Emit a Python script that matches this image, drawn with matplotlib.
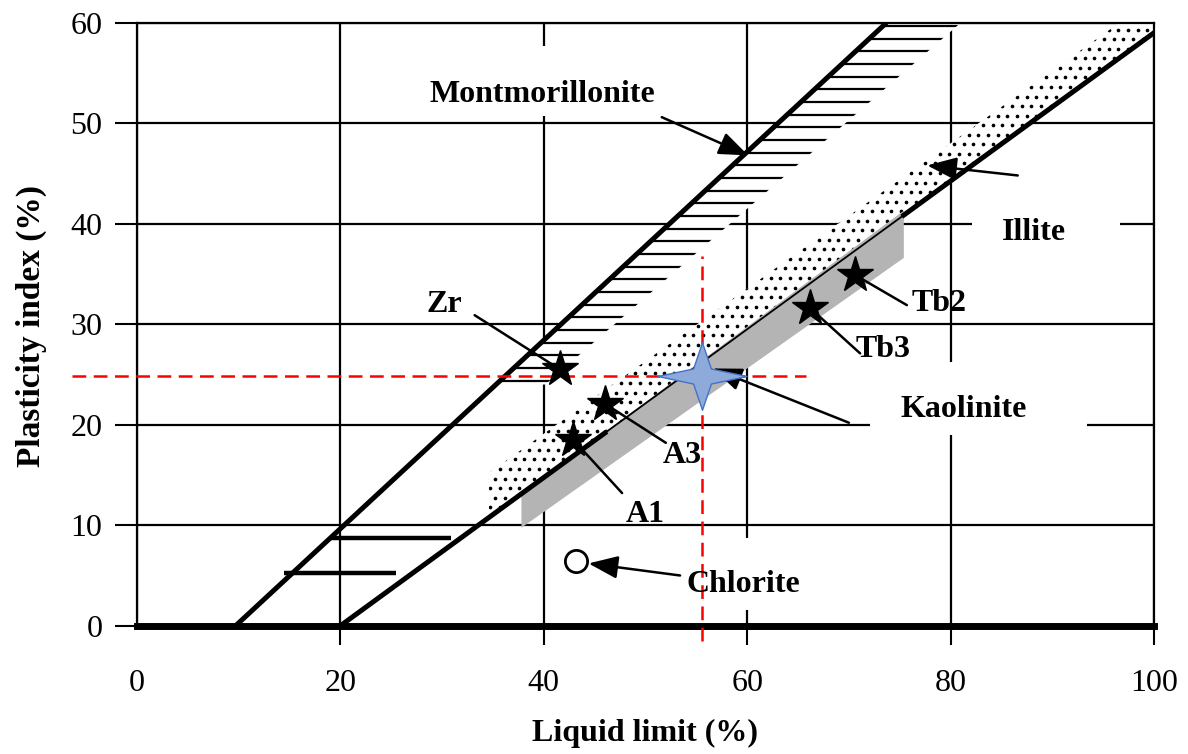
import numpy as np
import matplotlib
matplotlib.use("Agg")
import matplotlib.pyplot as plt
from matplotlib.patches import Polygon, Rectangle
from matplotlib.path import Path
from matplotlib.markers import MarkerStyle

plt.rcParams['font.family'] = ['Liberation Serif', 'DejaVu Serif']

# boundary lines of the chart (liquid limit, plasticity index)
upper_ll = [9.7, 73.7]
upper_pi = [0, 60]
aline_ll = [20, 100]
aline_pi = [0, 59]

# mineral zones
mont_right_ll = [40.15, 81.0]
mont_pi = [24, 60]
illite_top_ll = [34.6, 96.6]
illite_top_pi = [15.2, 60]
kao_ll = [37.8, 37.8, 75.4, 75.4]
kao_pi = [9.75, 13.1, 41.3, 36.6]
clml_pi = [5.2, 8.7]
clml_left = [14.5, 19.1]
clml_right = [25.5, 30.9]

# samples
sample_names = ['Zr', 'A3', 'A1', 'Tb2', 'Tb3']
sample_ll = [41.6, 46.0, 42.9, 70.6, 66.2]
sample_pi = [25.5, 22.1, 18.5, 34.9, 31.6]
chlorite_ll, chlorite_pi = 43.2, 6.4
soil_ll, soil_pi = 55.6, 24.8

xticks = [0, 20, 40, 60, 80, 100]
yticks = [0, 10, 20, 30, 40, 50, 60]

fig = plt.figure(figsize=(11.88, 7.54), dpi=100)
ax = fig.add_axes([0.1153, 0.1701, 0.8561, 0.7998])
ax.set_xlim(0, 100)
ax.set_ylim(0, 60)

ax.set_axisbelow(True)
ax.grid(True, color='black', lw=1.6)
ax.set_xticks(xticks)
ax.set_yticks(yticks)
ax.tick_params(axis='x', direction='out', length=14, width=1.5, pad=17, labelsize=23)
ax.tick_params(axis='y', direction='out', length=16, width=1.5, pad=9, labelsize=23)
ax.xaxis.get_major_ticks()[0].tick1line.set_visible(False)
for side in ['top', 'right', 'left']:
    ax.spines[side].set_linewidth(1.6)
ax.spines['bottom'].set_linewidth(5)

# white backgrounds behind the zone names
for x0, y0, w, h in [(27, 50.7, 25, 7.0), (82.1, 36.0, 14.6, 7.0),
                     (72.1, 19.0, 21.3, 7.2), (52.0, 1.55, 15.0, 7.15)]:
    ax.add_patch(Rectangle((x0, y0), w, h, fc='white', ec='none', zorder=1))

# montmorillonite: hatched band left of the upper line
m_left = np.interp(mont_pi, upper_pi, upper_ll)
mont = Polygon([(m_left[0], mont_pi[0]), (m_left[1], mont_pi[1]),
                (mont_right_ll[1], mont_pi[1]), (mont_right_ll[0], mont_pi[0])],
               closed=True, fc='white', ec='none', zorder=1.2)
ax.add_patch(mont)
hl = ax.hlines(np.arange(24.4, 60, 1.26), 0, 100, colors='black', lw=1.6, zorder=1.3)
hl.set_clip_path(mont)

# illite: dotted band above the A-line
a_left = np.interp(illite_top_ll[0], aline_ll, aline_pi)
illite = Polygon([(illite_top_ll[0], a_left), (illite_top_ll[0], illite_top_pi[0]),
                  (illite_top_ll[1], illite_top_pi[1]), (100, 60), (100, aline_pi[1])],
                 closed=True, fc='white', ec='none', zorder=1.2)
ax.add_patch(illite)
gx, gy = np.meshgrid(np.arange(30, 101, 0.95), np.arange(8, 61, 0.95))
gx = gx + 0.475 * (np.arange(gy.shape[0])[:, None] % 2)
dots = ax.scatter(gx.ravel(), gy.ravel(), s=7, c='black', lw=0, zorder=1.3)
dots.set_clip_path(illite)

# kaolinite: grey band under the A-line
ax.add_patch(Polygon(list(zip(kao_ll, kao_pi)), closed=True, fc='#b4b4b4',
                     ec='none', zorder=1.4))

# boundary lines
ax.plot(upper_ll, upper_pi, color='black', lw=3.6, zorder=2, solid_capstyle='butt')
thin_from, thin_to = 46, 75.4
seg1 = [aline_ll[0], thin_from]
seg2 = [thin_to, aline_ll[1]]
ax.plot(seg1, np.interp(seg1, aline_ll, aline_pi), color='black', lw=3.6, zorder=2)
ax.plot(seg2, np.interp(seg2, aline_ll, aline_pi), color='black', lw=3.6, zorder=2)
mid = [thin_from, thin_to]
ax.plot(mid, np.interp(mid, aline_ll, aline_pi), color='black', lw=1.3, zorder=2)
ax.hlines(clml_pi, clml_left, clml_right, colors='black', lw=3.2, zorder=2)

# red guide lines through the soil sample
guide = dict(color='red', lw=1.8, ls=(0, (5.5, 3.0)), zorder=3.5, clip_on=False)
ax.plot([-6.4, 65.8], [soil_pi, soil_pi], **guide)
ax.plot([soil_ll, soil_ll], [-1.5, 36.8], **guide)

# leader lines from sample labels to stars
leader_start = [(33.2, 30.9), (52.0, 18.2), (47.7, 13.2), (75.7, 31.9), (71.1, 27.1)]
for (sx, sy), x, y in zip(leader_start, sample_ll, sample_pi):
    ax.annotate('', xy=(x, y), xytext=(sx, sy),
                arrowprops=dict(arrowstyle='-', lw=1.8, color='black',
                                shrinkA=0, shrinkB=0), zorder=3)

ax.plot(sample_ll, sample_pi, ls='none', marker='*', ms=27, color='black', zorder=4)
ax.plot([chlorite_ll], [chlorite_pi], ls='none', marker='o', ms=16, mfc='white',
        mec='black', mew=2, zorder=4)

star4 = Path([(1, 0), (0.2, 0.17), (0, 0.76), (-0.2, 0.17), (-1, 0),
              (-0.2, -0.17), (0, -0.76), (0.2, -0.17), (1, 0)],
             [Path.MOVETO] + [Path.LINETO] * 7 + [Path.CLOSEPOLY])
ax.plot([soil_ll], [soil_pi], ls='none', marker=MarkerStyle(star4), ms=64,
        mfc='#8eaadb', mec='#4472c4', mew=1.0, zorder=4.5)

# arrows to the mineral zones
head = dict(arrowstyle='-|>,head_length=0.9,head_width=0.35', lw=1.8, color='black',
            mutation_scale=20, shrinkA=0, shrinkB=0)
for tip, start in [((60.1, 46.8), (51.6, 50.6)), ((77.7, 45.8), (86.6, 44.8)),
                   ((56.6, 25.6), (70.0, 20.2)), ((44.4, 6.2), (53.4, 5.0))]:
    ax.annotate('', xy=tip, xytext=start, arrowprops=head, zorder=3)

label_font = dict(fontsize=23, fontweight='bold', ha='center', va='baseline', zorder=5)
ax.text(39.9, 52.1, 'Montmorillonite', **label_font)
ax.text(88.2, 38.4, 'Illite', **label_font)
ax.text(81.3, 20.8, 'Kaolinite', **label_font)
ax.text(59.6, 3.35, 'Chlorite', **label_font)
sample_text = [(30.2, 31.2), (53.6, 16.2), (50.0, 10.3), (78.9, 31.3), (73.4, 26.7)]
for name, (tx, ty) in zip(sample_names, sample_text):
    ax.text(tx, ty, name, **label_font)

ax.set_xlabel('Liquid limit (%)', fontsize=23, fontweight='bold')
ax.set_ylabel('Plasticity index (%)', fontsize=24, fontweight='bold')
ax.xaxis.set_label_coords(0.5, -0.155)
ax.yaxis.set_label_coords(-0.088, 0.497)

fig.savefig('out.png', dpi=100)
